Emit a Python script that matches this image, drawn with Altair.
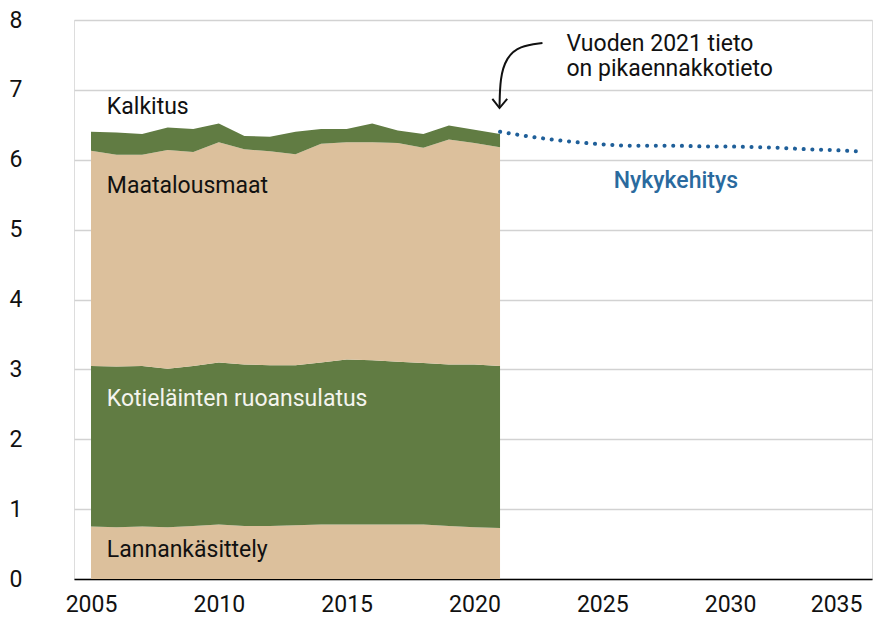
import altair as alt
import pandas as pd

# ---- data ----
years = list(range(2005, 2022))
lannankasittely = [0.75, 0.74, 0.75, 0.74, 0.76, 0.78, 0.76, 0.76, 0.77, 0.78, 0.78, 0.78, 0.78, 0.78, 0.76, 0.74, 0.73]
kotielainten = [2.30, 2.30, 2.30, 2.27, 2.29, 2.32, 2.31, 2.30, 2.29, 2.32, 2.36, 2.35, 2.33, 2.31, 2.31, 2.33, 2.32]
maatalousmaat = [3.08, 3.03, 3.02, 3.13, 3.06, 3.15, 3.08, 3.06, 3.02, 3.13, 3.11, 3.12, 3.13, 3.08, 3.22, 3.17, 3.13]
kalkitus = [0.27, 0.32, 0.30, 0.32, 0.33, 0.27, 0.19, 0.21, 0.32, 0.21, 0.19, 0.27, 0.18, 0.20, 0.20, 0.19, 0.19]

proj_years = list(range(2021, 2036))
nykykehitys = [6.40, 6.34, 6.29, 6.25, 6.22, 6.20, 6.20, 6.20, 6.19, 6.19, 6.18, 6.17, 6.15, 6.14, 6.12]

categories = ["Lannankäsittely", "Kotieläinten ruoansulatus", "Maatalousmaat", "Kalkitus"]
cat_colors = ["#dcc09c", "#617c43", "#dcc09c", "#617c43"]

x_ticks = [2005, 2010, 2015, 2020, 2025, 2030, 2035]
y_ticks = [0, 1, 2, 3, 4, 5, 6, 7, 8]

# area labels (dark text)
label_text = ["Kalkitus", "Maatalousmaat", "Lannankäsittely"]
label_x = [2005.62, 2005.62, 2005.62]
label_y = [6.75, 5.63, 0.42]
# white label
white_text = ["Kotieläinten ruoansulatus"]
white_x = [2005.62]
white_y = [2.58]
# projection label
proj_label = ["Nykykehitys"]
proj_label_x = [2027.88]
proj_label_y = [5.70]
# note
note_lines = ["Vuoden 2021 tieto", "on pikaennakkotieto"]
note_x = [2023.6, 2023.6]
note_y = [7.66, 7.30]
# annotation arrow (curve + head)
arrow_x = [2022.66, 2021.76, 2021.24, 2021.0, 2020.98]
arrow_y = [7.67, 7.63, 7.46, 7.17, 6.74]
head_x = [2020.70, 2020.98, 2021.28]
head_y = [6.87, 6.74, 6.87]

# ---- build tables ----
series = [lannankasittely, kotielainten, maatalousmaat, kalkitus]
rows = []
for i, (cat, vals) in enumerate(zip(categories, series)):
    for yr, v in zip(years, vals):
        rows.append({"year": yr, "category": cat, "value": v, "order": i})
area_df = pd.DataFrame(rows)
proj_df = pd.DataFrame({"year": proj_years, "value": nykykehitys})

FONT = "Roboto"
FS = 23
x_scale = alt.Scale(domain=[2004.335, 2035.55], nice=False, zero=False)
y_scale = alt.Scale(domain=[0, 8], nice=False)

area = alt.Chart(area_df).mark_area(interpolate="linear").encode(
    x=alt.X("year:Q", scale=x_scale, title=None,
            axis=alt.Axis(values=x_ticks, format="d", grid=False, ticks=False,
                          domain=True, domainColor="#000000", domainWidth=1.5,
                          labelFontSize=FS, labelColor="#111111", labelPadding=14,
                          labelFlush=15, labelFlushOffset=4,
                          labelFont=FONT)),
    y=alt.Y("value:Q", stack="zero", scale=y_scale, title=None,
            axis=alt.Axis(values=y_ticks, format="d", grid=True, gridColor="#d2d2d2", gridWidth=1.5,
                          ticks=False, domain=False, labelFontSize=FS, labelColor="#111111",
                          labelPadding=52, labelFont=FONT)),
    color=alt.Color("category:N", scale=alt.Scale(domain=categories, range=cat_colors), legend=None),
    order=alt.Order("order:Q"),
)

proj = alt.Chart(proj_df).mark_line(
    color="#1f5f99", strokeWidth=4, strokeDash=[0.1, 8.6], strokeCap="round"
).encode(x=alt.X("year:Q", scale=x_scale), y=alt.Y("value:Q", scale=y_scale))

lab_df = pd.DataFrame({"t": label_text, "x": label_x, "y": label_y})
labels = alt.Chart(lab_df).mark_text(align="left", baseline="middle", fontSize=FS, font=FONT,
                                     color="#111111").encode(
    x=alt.X("x:Q", scale=x_scale), y=alt.Y("y:Q", scale=y_scale), text="t:N")

w_df = pd.DataFrame({"t": white_text, "x": white_x, "y": white_y})
wlabels = alt.Chart(w_df).mark_text(align="left", baseline="middle", fontSize=FS, font=FONT,
                                    color="#f4f4ee").encode(
    x=alt.X("x:Q", scale=x_scale), y=alt.Y("y:Q", scale=y_scale), text="t:N")

p_df = pd.DataFrame({"t": proj_label, "x": proj_label_x, "y": proj_label_y})
plabel = alt.Chart(p_df).mark_text(align="center", baseline="middle", fontSize=FS, font=FONT,
                                   fontWeight=500, color="#2a6a9e").encode(
    x=alt.X("x:Q", scale=x_scale), y=alt.Y("y:Q", scale=y_scale), text="t:N")

n_df = pd.DataFrame({"t": note_lines, "x": note_x, "y": note_y})
note = alt.Chart(n_df).mark_text(align="left", baseline="middle", fontSize=FS, font=FONT,
                                 color="#111111").encode(
    x=alt.X("x:Q", scale=x_scale), y=alt.Y("y:Q", scale=y_scale), text="t:N")

a_df = pd.DataFrame({"x": arrow_x, "y": arrow_y, "o": list(range(len(arrow_x)))})
arrow = alt.Chart(a_df).mark_line(color="#111111", strokeWidth=2, interpolate="basis").encode(
    x=alt.X("x:Q", scale=x_scale), y=alt.Y("y:Q", scale=y_scale), order="o:Q")

h_df = pd.DataFrame({"x": head_x, "y": head_y, "o": list(range(len(head_x)))})
head = alt.Chart(h_df).mark_line(color="#111111", strokeWidth=2).encode(
    x=alt.X("x:Q", scale=x_scale), y=alt.Y("y:Q", scale=y_scale), order="o:Q")

chart = alt.layer(area, proj, labels, wlabels, plabel, note, arrow, head).properties(
    width=798, height=559,
    autosize=alt.AutoSizeParams(type="none"),
    padding={"left": 66, "top": 12, "right": 4, "bottom": 34},
).configure_view(stroke=None).configure(font=FONT)

chart.save("out.html", embed_options={"renderer": "svg", "actions": False})
